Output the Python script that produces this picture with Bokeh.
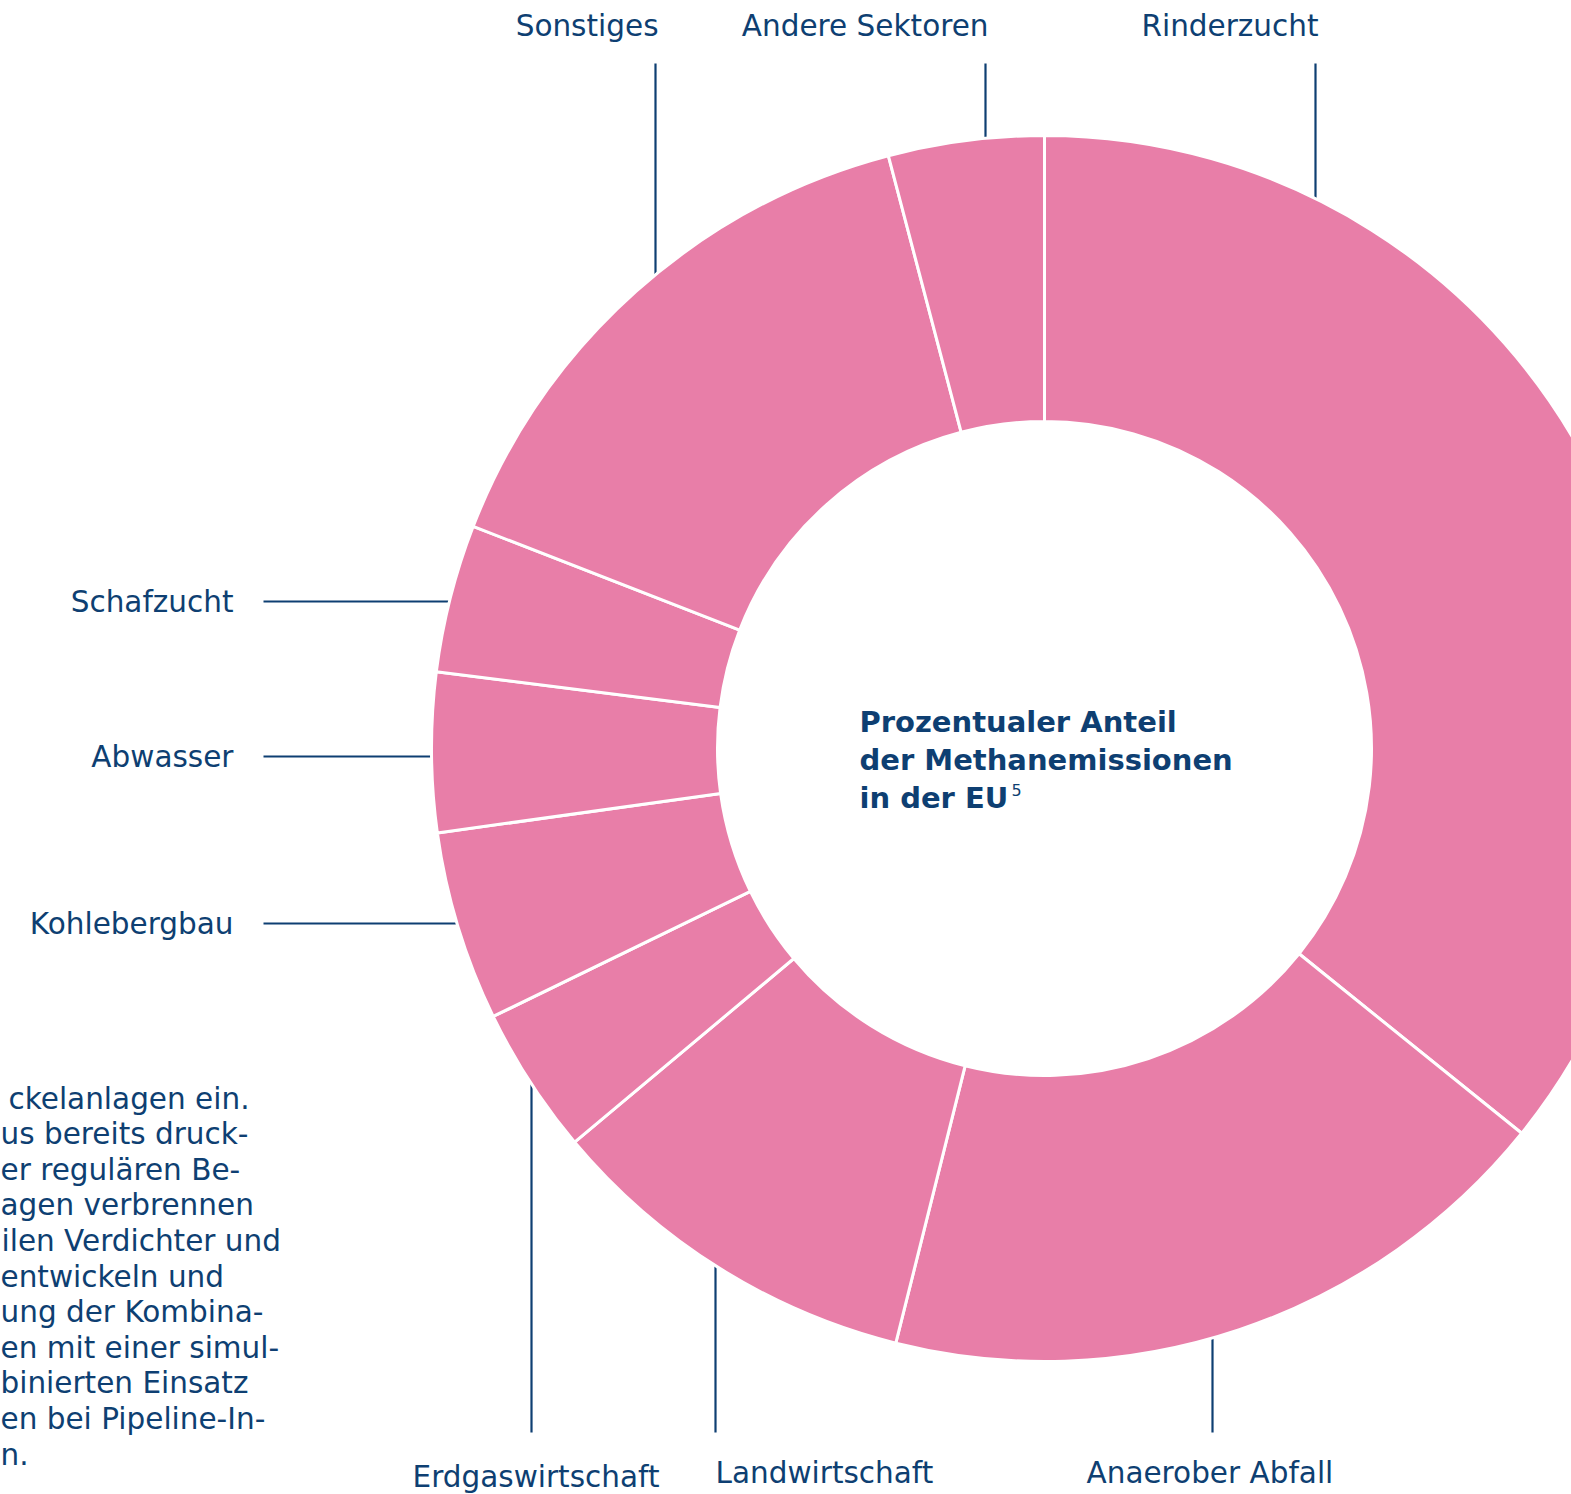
import numpy as np
from bokeh.plotting import figure
from bokeh.models import Range1d, ColumnDataSource
from bokeh.core.properties import value
from bokeh.embed import file_html
from bokeh.resources import INLINE

# ---------------- data ----------------
categories = ["Rinderzucht", "Anaerober Abfall", "Landwirtschaft", "Erdgaswirtschaft",
              "Kohlebergbau", "Abwasser", "Schafzucht", "Sonstiges", "Andere Sektoren"]
shares = [35.8, 18.1, 10.0, 3.9, 5.0, 4.2, 3.9, 15.0, 4.1]   # percent, clockwise from 12 o'clock

center_title = ["Prozentualer Anteil", "der Methanemissionen", "in der EU"]
footnote_mark = "5"

paragraph = ["ckelanlagen ein.", "us bereits druck-", "er regulären Be-", "agen verbrennen",
             "ilen Verdichter und", "entwickeln und", "ung der Kombina-", "en mit einer simul-",
             "binierten Einsatz", "en bei Pipeline-In-", "n."]

# ---------------- layout / style ----------------
PINK = "#E87EA8"
NAVY = "#0E3F72"
FONT = "DejaVu Sans"
FS = "29.5px"
FS_BOLD = "29px"
W, H = 1571, 1494
CX, CY = 1044, 748          # page pixel coordinates of the donut centre
R_OUT, R_IN = 613, 327

label_layout = {
    "Rinderzucht":      dict(tx=1318, ty=25,   align="right", kind="v", pos=1315, end=63),
    "Andere Sektoren":  dict(tx=988,  ty=25,   align="right", kind="v", pos=985,  end=63),
    "Sonstiges":        dict(tx=658,  ty=25,   align="right", kind="v", pos=655,  end=63),
    "Schafzucht":       dict(tx=233,  ty=601,  align="right", kind="h", pos=601,  end=263),
    "Abwasser":         dict(tx=233,  ty=756,  align="right", kind="h", pos=756,  end=263),
    "Kohlebergbau":     dict(tx=233,  ty=923,  align="right", kind="h", pos=923,  end=263),
    "Erdgaswirtschaft": dict(tx=412,  ty=1476, align="left",  kind="v", pos=531,  end=1432),
    "Landwirtschaft":   dict(tx=715,  ty=1472, align="left",  kind="v", pos=715,  end=1432),
    "Anaerober Abfall": dict(tx=1086, ty=1472, align="left",  kind="v", pos=1212, end=1432),
}
paragraph_x = [8, 0, 0, 0, 1, 0, 0, 0, 0, 0, 0]

# page y -> data y (data y axis points up)
def Y(v):
    return -np.asarray(v, dtype=float)

p = figure(width=W, height=H, x_range=Range1d(0, W), y_range=Range1d(-H, 0),
           output_backend="svg", toolbar_location=None, min_border=0,
           background_fill_color="white", border_fill_color="white")
p.axis.visible = False
p.grid.visible = False
p.outline_line_color = None

# ---------------- leader lines (drawn under the ring) ----------------
xs, ys = [], []
for cat in categories:
    L = label_layout[cat]
    if L["kind"] == "v":
        x = L["pos"]
        h = np.sqrt(R_OUT**2 - (x - CX) ** 2) - 12
        yring = CY - h if L["end"] < CY else CY + h
        xs.append([x, x]); ys.append(list(Y([L["end"], yring])))
    else:
        y = L["pos"]
        w = np.sqrt(R_OUT**2 - (y - CY) ** 2) - 12
        xring = CX - w
        xs.append([L["end"], xring]); ys.append(list(Y([y, y])))
p.multi_line(xs=xs, ys=ys, line_color=NAVY, line_width=2.2)

# ---------------- donut ----------------
sh = np.array(shares, dtype=float)
cum = np.concatenate([[0], np.cumsum(sh)]) / sh.sum() * 360.0
theta_a, theta_b = cum[:-1], cum[1:]
src = ColumnDataSource(dict(cat=categories,
                            start=np.radians(90 - theta_b),
                            end=np.radians(90 - theta_a)))
p.annular_wedge(x=CX, y=-CY, inner_radius=R_IN, outer_radius=R_OUT,
                start_angle="start", end_angle="end", direction="anticlock",
                fill_color=PINK, line_color="white", line_width=3, source=src)

# ---------------- labels ----------------
for align in ("left", "right"):
    cats = [c for c in categories if label_layout[c]["align"] == align]
    p.text(x=[label_layout[c]["tx"] for c in cats], y=Y([label_layout[c]["ty"] for c in cats]),
           text=cats, text_align=align, text_baseline="middle",
           text_font=value(FONT), text_font_size=FS, text_color=NAVY)

# centre title
p.text(x=[859] * 3, y=Y([721, 759, 797]), text=center_title, text_align="left",
       text_baseline="middle", text_font=value(FONT), text_font_size=FS_BOLD,
       text_font_style="bold", text_color=NAVY)
p.text(x=[1011], y=Y([789]), text=[footnote_mark], text_align="left",
       text_baseline="middle", text_font=value(FONT), text_font_size="16px", text_color=NAVY)

# cropped body text on the left
p.text(x=paragraph_x, y=Y(1098 + 35.6 * np.arange(len(paragraph))), text=paragraph,
       text_align="left", text_baseline="middle", text_font=value(FONT),
       text_font_size=FS, text_color=NAVY)

open("out.html", "w").write(file_html(p, INLINE))
